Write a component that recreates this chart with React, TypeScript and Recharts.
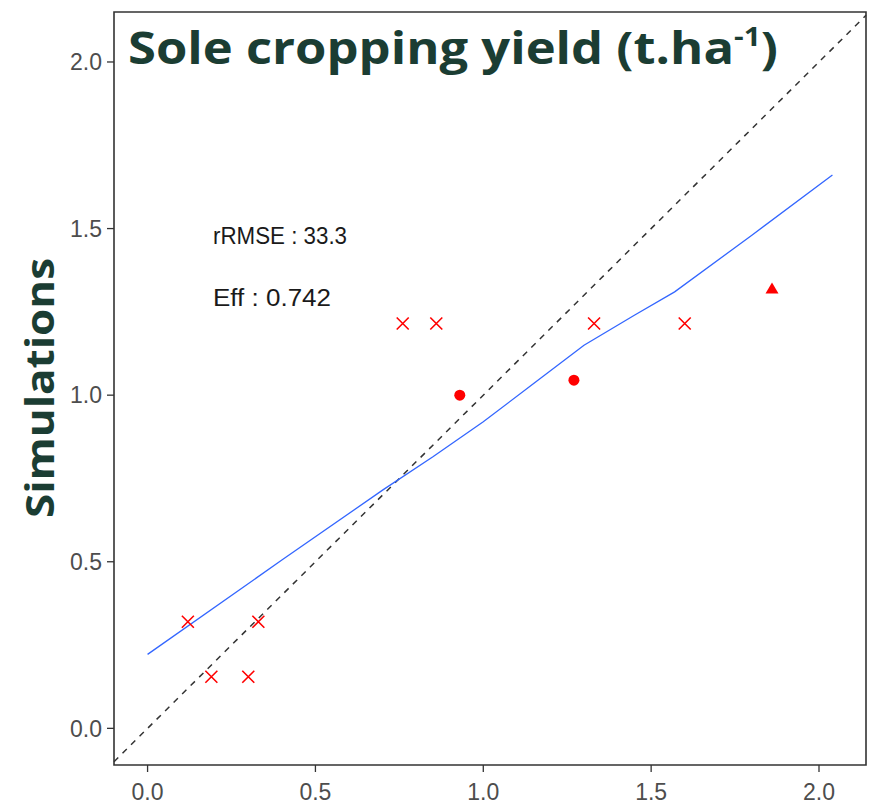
import { ScatterChart, Scatter, XAxis, YAxis, ReferenceLine, ReferenceArea } from 'recharts'

// observed vs simulated yield, grouped by marker
const crossObs = [0.12, 0.19, 0.3, 0.33, 0.76, 0.86, 1.33, 1.6]
const crossSim = [0.32, 0.155, 0.155, 0.32, 1.215, 1.215, 1.215, 1.215]
const dotObs = [0.93, 1.27]
const dotSim = [1.0, 1.045]
const triObs = [1.86]
const triSim = [1.32]

// smoothed fit line
const fitObs = [0, 0.4, 0.7, 0.85, 1.0, 1.15, 1.3, 1.45, 1.57, 1.8, 2.04]
const fitSim = [0.222, 0.505, 0.715, 0.815, 0.92, 1.035, 1.15, 1.24, 1.31, 1.48, 1.661]

const ticks = [0, 0.5, 1, 1.5, 2]
const xDomain: [number, number] = [-0.1, 2.14]
const yDomain: [number, number] = [-0.11, 2.15]

const pair = (xs: number[], ys: number[]) => xs.map((x, i) => ({ x, y: ys[i] }))

const crosses = pair(crossObs, crossSim)
const dots = pair(dotObs, dotSim)
const tris = pair(triObs, triSim)
const fit = pair(fitObs, fitSim)

const RED = '#ff0000'
const TITLE = '#1b3d33'
const bold = '"Open Sans", "Noto Sans", sans-serif'
const plain = '"Liberation Sans", Arial, sans-serif'

const XMark = ({ cx, cy }: any) => (
  <path
    d={`M${cx - 6},${cy - 6}L${cx + 6},${cy + 6}M${cx - 6},${cy + 6}L${cx + 6},${cy - 6}`}
    stroke={RED}
    strokeWidth={1.6}
  />
)
const Dot = ({ cx, cy }: any) => <circle cx={cx} cy={cy} r={5.5} fill={RED} />
const Tri = ({ cx, cy }: any) => (
  <path d={`M${cx},${cy - 6}L${cx + 6.5},${cy + 5}L${cx - 6.5},${cy + 5}Z`} fill={RED} />
)
const Empty = () => <g />

const tickStyle = { fill: '#4d4d4d', fontSize: 23, fontFamily: plain }

export default function App() {
  return (
    <div style={{ position: 'absolute', left: 0, top: 0, width: 872, height: 806, background: '#fff' }}>
      <ScatterChart width={872} height={806} margin={{ top: 12, right: 6, bottom: 0, left: 0 }}>
        <XAxis
          type="number"
          dataKey="x"
          domain={xDomain}
          ticks={ticks}
          allowDataOverflow
          height={41}
          tickFormatter={(v: number) => v.toFixed(1)}
          tick={tickStyle}
          axisLine={false}
          tickLine={{ stroke: '#333', strokeWidth: 1.3 }}
          tickSize={7}
          tickMargin={12}
        />
        <YAxis
          type="number"
          dataKey="y"
          domain={yDomain}
          ticks={ticks}
          allowDataOverflow
          width={114}
          tickFormatter={(v: number) => v.toFixed(1)}
          tick={tickStyle}
          axisLine={false}
          tickLine={{ stroke: '#333', strokeWidth: 1.3 }}
          tickSize={7}
          tickMargin={5}
        />
        <ReferenceArea
          x1={xDomain[0]}
          x2={xDomain[1]}
          y1={yDomain[0]}
          y2={yDomain[1]}
          fill="none"
          stroke="#333"
          strokeWidth={1.6}
        />
        <ReferenceLine
          segment={[{ x: -0.1, y: -0.1 }, { x: 2.14, y: 2.14 }]}
          stroke="#333"
          strokeWidth={1.5}
          strokeDasharray="6 6"
        />
        <Scatter data={fit} line={{ stroke: '#3366ff', strokeWidth: 1.3 }} shape={<Empty />} isAnimationActive={false} />
        <Scatter data={crosses} shape={<XMark />} isAnimationActive={false} />
        <Scatter data={dots} shape={<Dot />} isAnimationActive={false} />
        <Scatter data={tris} shape={<Tri />} isAnimationActive={false} />
      </ScatterChart>
      <svg width={872} height={806} style={{ position: 'absolute', left: 0, top: 0, pointerEvents: 'none' }}>
        <text x={128} y={64} fill={TITLE} fontFamily={bold} fontWeight={700} fontSize={44} textLength={650} lengthAdjust="spacingAndGlyphs">
          Sole cropping yield (t.ha
          <tspan fontSize={26} dy={-18}>-1</tspan>
          <tspan dy={18}>)</tspan>
        </text>
        <text
          transform="translate(54,388) rotate(-90)"
          textAnchor="middle"
          fill={TITLE}
          fontFamily={bold}
          fontWeight={700}
          fontSize={40}
          textLength={260}
          lengthAdjust="spacingAndGlyphs"
        >
          Simulations
        </text>
        <text x={213} y={244} fill="#1a1a1a" fontSize={23} fontFamily={plain} textLength={134} lengthAdjust="spacingAndGlyphs">
          rRMSE : 33.3
        </text>
        <text x={213} y={306} fill="#1a1a1a" fontSize={23} fontFamily={plain} textLength={118} lengthAdjust="spacingAndGlyphs">
          Eff : 0.742
        </text>
      </svg>
    </div>
  )
}
